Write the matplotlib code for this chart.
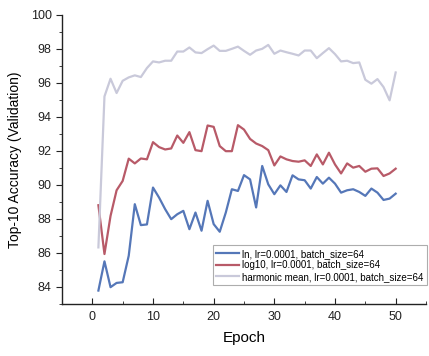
import matplotlib
matplotlib.use("Agg")
import matplotlib.pyplot as plt
from matplotlib.ticker import MultipleLocator

plt.rcParams['font.family'] = ['Liberation Sans', 'DejaVu Sans']

epochs = list(range(1, 51))
ln_acc = [83.79, 85.51, 83.99, 84.24, 84.28, 85.84, 88.87, 87.64, 87.68, 89.85,
          89.26, 88.58, 87.99, 88.28, 88.48, 87.40, 88.38, 87.31, 89.07, 87.70,
          87.25, 88.38, 89.75, 89.65, 90.58, 90.33, 88.68, 91.12, 90.04, 89.46,
          89.98, 89.59, 90.57, 90.33, 90.28, 89.79, 90.47, 90.08, 90.43, 90.08,
          89.55, 89.69, 89.75, 89.59, 89.36, 89.79, 89.55, 89.12, 89.20, 89.49]
log10_acc = [88.81, 85.94, 88.18, 89.69, 90.24, 91.55, 91.27, 91.56, 91.51, 92.52,
             92.23, 92.09, 92.15, 92.91, 92.48, 93.11, 92.05, 91.99, 93.50, 93.42,
             92.29, 91.99, 91.99, 93.52, 93.26, 92.71, 92.44, 92.29, 92.05, 91.15,
             91.68, 91.51, 91.41, 91.37, 91.45, 91.12, 91.80, 91.21, 91.90, 91.21,
             90.68, 91.27, 91.02, 91.12, 90.78, 90.96, 90.98, 90.53, 90.68, 90.96]
harm_acc = [86.33, 95.21, 96.25, 95.41, 96.13, 96.33, 96.45, 96.35, 96.88, 97.27,
            97.21, 97.31, 97.31, 97.85, 97.85, 98.09, 97.80, 97.76, 97.99, 98.20,
            97.89, 97.89, 98.01, 98.14, 97.89, 97.66, 97.91, 98.01, 98.24, 97.72,
            97.91, 97.81, 97.72, 97.62, 97.91, 97.91, 97.46, 97.76, 98.05, 97.70,
            97.27, 97.31, 97.17, 97.21, 96.19, 95.96, 96.23, 95.76, 94.98, 96.62]
labels = ["ln, lr=0.0001, batch_size=64",
          "log10, lr=0.0001, batch_size=64",
          "harmonic mean, lr=0.0001, batch_size=64"]
colors = ["#5577b8", "#b85a68", "#c9c9da"]

fig = plt.figure(figsize=(4.29, 3.56), dpi=100)
ax = fig.add_axes([62/429, 1-304/356, (426-62)/429, (304-15)/356])

for ys, lab, c in zip([ln_acc, log10_acc, harm_acc], labels, colors):
    ax.plot(epochs, ys, color=c, lw=1.6, label=lab)

ax.set_xlim(-5, 55)
ax.set_ylim(83, 100)
ax.xaxis.set_major_locator(MultipleLocator(10))
ax.xaxis.set_minor_locator(MultipleLocator(5))
ax.yaxis.set_major_locator(MultipleLocator(2))
ax.yaxis.set_minor_locator(MultipleLocator(1))
ax.set_yticks([84, 86, 88, 90, 92, 94, 96, 98, 100])
ax.spines['top'].set_visible(False)
ax.spines['right'].set_visible(False)
for s in ['left', 'bottom']:
    ax.spines[s].set_linewidth(1.0)
    ax.spines[s].set_color('#222222')
ax.tick_params(axis='y', which='major', direction='out', length=4, labelsize=9, colors='#222222')
ax.tick_params(axis='y', which='minor', direction='out', length=2, colors='#222222')
ax.tick_params(axis='x', which='major', direction='in', length=4, labelsize=9, pad=5, colors='#222222')
ax.tick_params(axis='x', which='minor', direction='in', length=2, colors='#222222')

ax.set_xlabel("Epoch", fontsize=11, labelpad=6)
ax.set_ylabel("Top-10 Accuracy (Validation)", fontsize=10, labelpad=6)

leg = ax.legend(loc='lower right', bbox_to_anchor=(1.003, 0.065), fontsize=7,
                frameon=True, fancybox=False, handlelength=2.4, handletextpad=0.3,
                borderpad=0.35, labelspacing=0.15, borderaxespad=0)
leg.get_frame().set_edgecolor('#999999')
leg.get_frame().set_linewidth(0.8)

fig.savefig("out.png", dpi=100)
